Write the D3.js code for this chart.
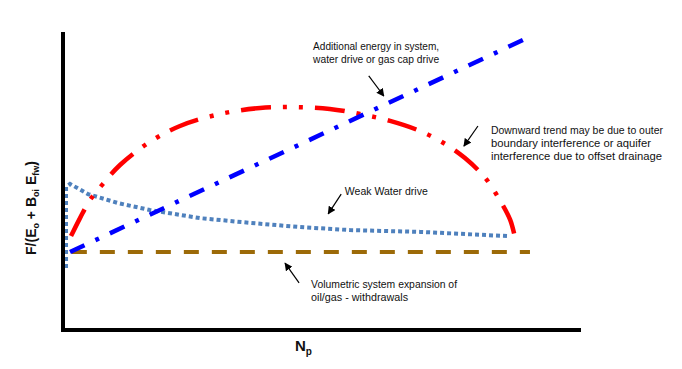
<!DOCTYPE html>
<html><head><meta charset="utf-8">
<script src="https://cdn.jsdelivr.net/npm/d3@7"></script>
<style>body{margin:0;background:#fff;} svg{display:block;}</style>
</head><body>
<script>
// ---- data (arbitrary units: Np on x, F/(Eo+Boi Efw) on y, both 0..100) ----
const waterCapX = [1.35, 88.5];
const waterCapY = [26, 96.7];

const boundaryX = [1.54, 3.27, 5.19, 7.69, 10.96, 16.7, 22.5, 30.2, 37.9, 44.6, 51.3, 57.1, 62.9, 68.7, 73.5, 77.3, 81.2, 84.0, 86.0, 86.9];
const boundaryY = [31.3, 37.3, 43.3, 48.7, 55.0, 62.7, 68.0, 72.0, 74.0, 74.3, 73.7, 72.0, 69.7, 66.3, 62.0, 57.3, 50.7, 43.3, 36.7, 31.0];

const weakX = [0.58, 0.58, 1.35, 4.8, 10.6, 16.7, 26.3, 36.0, 45.6, 55.2, 68.7, 85.6];
const weakY = [20.7, 47.7, 48.7, 45.3, 42.3, 40.0, 37.3, 35.7, 34.3, 33.3, 32.7, 31.3];

const volumetricX = [1.7, 89.8];
const volumetricY = [26, 26];

// annotations: label lines, text position, arrow from/to (data units)
const notes = [
  {lines: ["Additional energy in system,", "water drive or gas cap drive"], x: 48.1, y: 93.7, widths:[126,126],
   from: [58.8, 84.7], to: [61.7, 78.0]},
  {lines: ["Downward trend may be due to outer", "boundary interference or aquifer", "interference due to offset drainage"], x: 82.3, y: 65.7, widths:[172,160,171],
   from: [79.8, 68.0], to: [77.1, 61.3]},
  {lines: ["Weak Water drive"], x: 54.2, y: 45.3, widths:[83],
   from: [53.5, 45.3], to: [51.0, 38.7]},
  {lines: ["Volumetric system expansion of", "oil/gas - withdrawals"], x: 47.7, y: 14.3, widths:[146,97],
   from: [45.4, 15.7], to: [42.7, 22.3]}
];

const W = 682, H = 369;
const svg = d3.select("body").append("svg").attr("width", W).attr("height", H);

const x = d3.scaleLinear().domain([0, 100]).range([63, 583]);
const y = d3.scaleLinear().domain([0, 100]).range([330, 30]);

const defs = svg.append("defs");
defs.append("marker").attr("id", "ah").attr("viewBox", "0 0 10 10")
  .attr("refX", 9).attr("refY", 5).attr("markerWidth", 8).attr("markerHeight", 8)
  .attr("markerUnits", "userSpaceOnUse").attr("orient", "auto")
  .append("path").attr("d", "M0,0 L10,5 L0,10 z").attr("fill", "#000");

const line = d3.line().x(d => x(d[0])).y(d => y(d[1]));
const zip = (a, b) => a.map((v, i) => [v, b[i]]);

// volumetric
svg.append("path").datum(zip(volumetricX, volumetricY))
  .attr("d", line).attr("fill", "none").attr("stroke", "#9C6A08")
  .attr("stroke-width", 4).attr("stroke-dasharray", "15,13");

// weak water drive
svg.append("path").datum(zip(weakX, weakY))
  .attr("d", line)
  .attr("fill", "none").attr("stroke", "#4F81BD")
  .attr("stroke-width", 4).attr("stroke-dasharray", "4,3");

// red boundary curve
const smooth = d3.line().x(d => x(d[0])).y(d => y(d[1])).curve(d3.curveCatmullRom.alpha(0.5));
svg.append("path").datum(zip(boundaryX, boundaryY))
  .attr("d", smooth).attr("fill", "none").attr("stroke", "#FF0000")
  .attr("stroke-width", 4.5).attr("stroke-dasharray", "30,12,4,12,4,12");

// blue water/gas cap
svg.append("path").datum(zip(waterCapX, waterCapY))
  .attr("d", line).attr("fill", "none").attr("stroke", "#0000FF")
  .attr("stroke-width", 4.5).attr("stroke-dasharray", "16,12,4,12");

// axes (no ticks)
const xAxis = d3.axisBottom(x).tickValues([]).tickSizeOuter(0);
const yAxis = d3.axisLeft(y).tickValues([]).tickSizeOuter(0);
svg.append("g").attr("transform", `translate(0,${y(0)})`).call(xAxis)
  .select(".domain").attr("stroke", "#000").attr("stroke-width", 4)
  .attr("d", `M${x(0)-2},0H${581}`);
svg.append("g").attr("transform", `translate(${x(0)},0)`).call(yAxis)
  .select(".domain").attr("stroke", "#000").attr("stroke-width", 4)
  .attr("d", `M0,32V${y(0)+2}`);

// annotations
const font = "'Liberation Sans', Arial, sans-serif";
notes.forEach(n => {
  const t = svg.append("text").attr("font-family", font).attr("font-size", 11).attr("fill", "#111");
  n.lines.forEach((l, i) => {
    t.append("tspan").attr("x", x(n.x)).attr("y", y(n.y) + 1 + i * 13)
      .attr("textLength", n.widths[i]).attr("lengthAdjust", "spacingAndGlyphs").text(l);
  });
  svg.append("line").attr("x1", x(n.from[0])).attr("y1", y(n.from[1]))
    .attr("x2", x(n.to[0])).attr("y2", y(n.to[1]))
    .attr("stroke", "#000").attr("stroke-width", 1.2).attr("marker-end", "url(#ah)");
});

// axis titles
const xt = svg.append("text").attr("x", 295).attr("y", 351).attr("font-family", font)
  .attr("font-weight", "bold").attr("font-size", 15).attr("fill", "#111");
xt.append("tspan").text("N");
xt.append("tspan").attr("font-size", 10).attr("dy", 4).text("p");

const yt = svg.append("text").attr("transform", "translate(36,208) rotate(-90)")
  .attr("text-anchor", "middle").attr("font-family", font)
  .attr("font-weight", "bold").attr("font-size", 14).attr("fill", "#111");
yt.append("tspan").text("F/(E");
yt.append("tspan").attr("font-size", 9).attr("dy", 3).text("o");
yt.append("tspan").attr("dy", -3).text(" + B");
yt.append("tspan").attr("font-size", 9).attr("dy", 3).text("oi");
yt.append("tspan").attr("dy", -3).text(" E");
yt.append("tspan").attr("font-size", 9).attr("dy", 3).text("fw");
yt.append("tspan").attr("dy", -3).text(")");
</script>
</body></html>
